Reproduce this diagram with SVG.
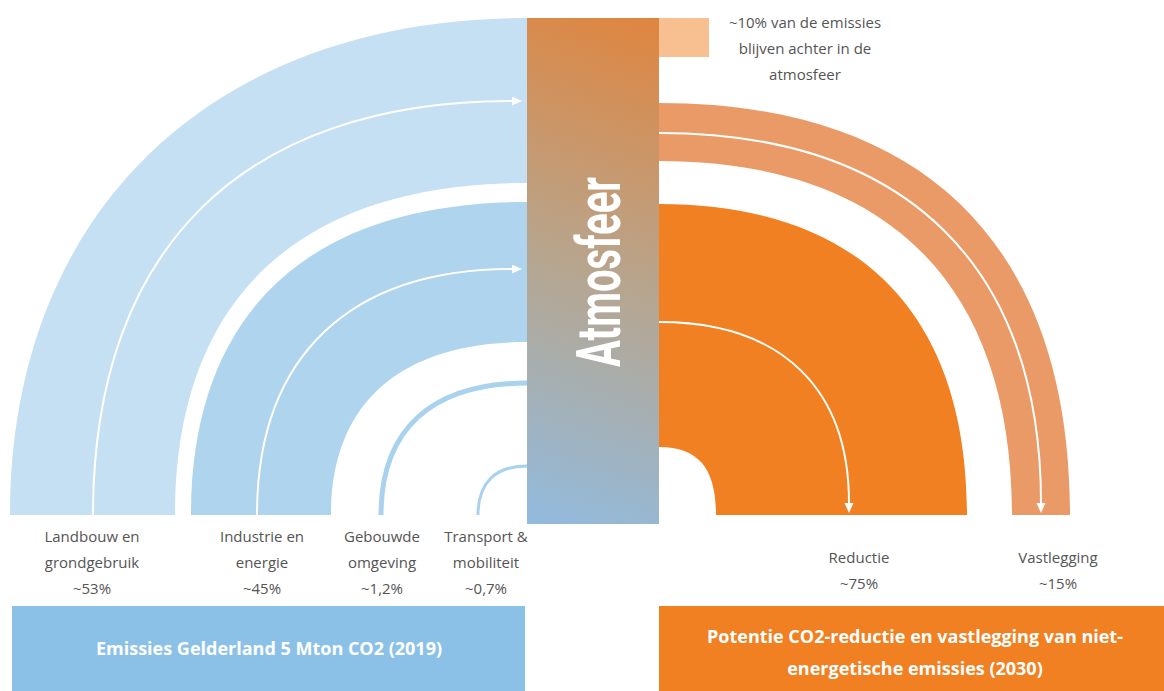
<svg xmlns="http://www.w3.org/2000/svg" width="1164" height="691" viewBox="0 0 1164 691">
<defs>
<linearGradient id="atm" gradientUnits="userSpaceOnUse" x1="685" y1="10" x2="500" y2="530">
<stop offset="0" stop-color="#e2833a"/>
<stop offset="0.5" stop-color="#b7a58e"/>
<stop offset="1" stop-color="#90bce3"/>
</linearGradient>
<marker id="ah" markerUnits="userSpaceOnUse" markerWidth="11" markerHeight="10" refX="0" refY="4.5" orient="auto" viewBox="0 0 11 10">
<path d="M0,0 L10,4.5 L0,9 Z" fill="#fff"/>
</marker>
</defs>
<style>
.lbl{font-family:"Open Sans","Noto Sans",sans-serif;font-size:15px;fill:#555;text-anchor:middle}
.box{font-family:"Open Sans","Noto Sans",sans-serif;font-size:18px;font-weight:bold;fill:#fff;text-anchor:middle}
.wl{fill:none;stroke:#fff;stroke-width:2;marker-end:url(#ah)}
</style>
<rect width="1164" height="691" fill="#fff"/>
<g id="connectors">
<path id="band-landbouw" d="M10 515 C10 212 212 18 527 18 L527 183 C298 183 175 299 175 515 Z" fill="#c6e0f3"/>
<path id="band-industrie" d="M191 515 C191 312 309 202 527 202 L527 342 C400 342 331 403 331 515 Z" fill="#afd4ed"/>
<path id="line-gebouwde" d="M381 515 C381 429 432 383 527 383" fill="none" stroke="#a9d2ee" stroke-width="5"/>
<path id="line-transport" d="M478 515 C478 483 495 466 527 466" fill="none" stroke="#a9d2ee" stroke-width="3"/>
<path class="wl" d="M93 515 C93 246 245 101 512 101"/>
<path class="wl" d="M257 515 C257 355 351 269 512 269"/>
<path id="band-reductie" d="M659 204 C859 204 967 313 967 515 L716 515 C716 470 700 447 659 447 Z" fill="#f08021"/>
<path id="band-vastlegging" d="M659 103 C926 103 1070 247 1070 515 L1012 515 C1012 285 888 161 659 161 Z" fill="#ea9a66"/>
<path class="wl" d="M659 322 C783 322 849 390 849 503"/>
<path class="wl" d="M659 133 C907 133 1041 267 1041 503"/>
</g>
<g id="atmosfeer">
<rect x="527" y="18" width="132" height="506" fill="url(#atm)"/>
<text transform="translate(620,272) rotate(-90)" text-anchor="middle" font-family="Roboto,'DejaVu Sans',sans-serif" font-weight="bold" font-size="61" fill="#fff" textLength="190" lengthAdjust="spacingAndGlyphs">Atmosfeer</text>
</g>
<g id="achter">
<rect x="659" y="18" width="50" height="39" fill="#f8bf91"/>
<text class="lbl" x="805" y="28">~10% van de emissies</text>
<text class="lbl" x="805" y="54">blijven achter in de</text>
<text class="lbl" x="805" y="80">atmosfeer</text>
</g>
<g id="landbouw">
<text class="lbl" x="92" y="542">Landbouw en</text>
<text class="lbl" x="92" y="568">grondgebruik</text>
<text class="lbl" x="92" y="594">~53%</text>
</g>
<g id="industrie">
<text class="lbl" x="262" y="542">Industrie en</text>
<text class="lbl" x="262" y="568">energie</text>
<text class="lbl" x="262" y="594">~45%</text>
</g>
<g id="gebouwde">
<text class="lbl" x="382" y="542">Gebouwde</text>
<text class="lbl" x="382" y="568">omgeving</text>
<text class="lbl" x="382" y="594">~1,2%</text>
</g>
<g id="transport">
<text class="lbl" x="486" y="542">Transport &amp;</text>
<text class="lbl" x="486" y="568">mobiliteit</text>
<text class="lbl" x="486" y="594">~0,7%</text>
</g>
<g id="reductie">
<text class="lbl" x="859" y="563">Reductie</text>
<text class="lbl" x="859" y="589">~75%</text>
</g>
<g id="vastlegging">
<text class="lbl" x="1058" y="563">Vastlegging</text>
<text class="lbl" x="1058" y="589">~15%</text>
</g>
<g id="emissies">
<rect x="12" y="606" width="513" height="85" fill="#8cc1e7"/>
<text class="box" x="269" y="655">Emissies Gelderland 5 Mton CO2 (2019)</text>
</g>
<g id="potentie">
<rect x="659" y="606" width="505" height="85" fill="#f08021"/>
<text class="box" x="915" y="643">Potentie CO2-reductie en vastlegging van niet-</text>
<text class="box" x="915" y="675">energetische emissies (2030)</text>
</g>
</svg>
